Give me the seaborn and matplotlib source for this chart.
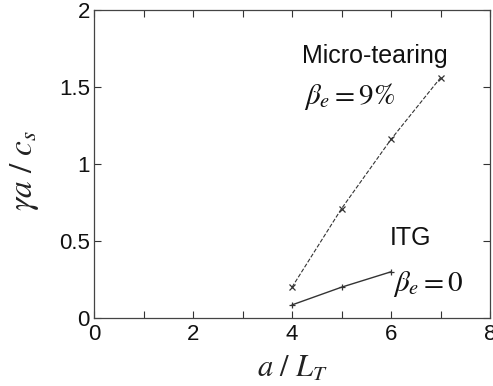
import matplotlib
matplotlib.use("Agg")
import matplotlib.pyplot as plt
import seaborn as sns
import pandas as pd

mt_x = [4, 5, 6, 7]
mt_y = [0.20, 0.71, 1.16, 1.56]
itg_x = [4, 5, 6]
itg_y = [0.085, 0.20, 0.30]

sns.set_theme(style="ticks")
plt.rcParams['font.family'] = ['Liberation Sans', 'DejaVu Sans']
plt.rcParams['mathtext.fontset'] = 'stix'

fig = plt.figure(figsize=(4.93, 3.86), dpi=100)
ax = fig.add_axes([94/493, 1-318/386, (490-94)/493, (318-10)/386])

df_mt = pd.DataFrame({'x': mt_x, 'y': mt_y})
df_itg = pd.DataFrame({'x': itg_x, 'y': itg_y})
sns.lineplot(data=df_mt, x='x', y='y', ax=ax, color='#333333', linestyle='--',
             linewidth=0.8, marker='x', markersize=4, markeredgewidth=0.9,
             markeredgecolor='#333333', dashes=(3, 2))
sns.lineplot(data=df_itg, x='x', y='y', ax=ax, color='#333333', linestyle='-',
             linewidth=1.0, marker='+', markersize=5, markeredgewidth=0.9,
             markeredgecolor='#333333')

ax.set_xlim(0, 8)
ax.set_ylim(0, 2)
ax.set_xticks([0, 2, 4, 6, 8])
ax.set_xticks([1, 3, 5, 7], minor=True)
ax.set_yticks([0, 0.5, 1, 1.5, 2])
ax.set_yticklabels(['0', '0.5', '1', '1.5', '2'])
ax.tick_params(which='both', direction='in', top=True, right=True, length=5,
               width=0.8, color='#333333', labelsize=16, labelcolor='#111111')
ax.tick_params(axis='x', pad=4)
ax.tick_params(axis='y', pad=3)
for s in ax.spines.values():
    s.set_color('#444444')
    s.set_linewidth(0.9)

ax.set_xlabel(r'$a\ /\ L_T$', fontsize=22, color='#222222', labelpad=7)
ax.set_ylabel(r'$\gamma a\ /\ c_s$', fontsize=24, color='#222222')
ax.yaxis.set_label_coords(-0.135, 0.48)

ax.text(4.2, 1.70, 'Micro-tearing', fontsize=18, va='center', ha='left', color='#111111')
ax.text(4.25, 1.44, r'$\beta_e = 9\%$', fontsize=21, va='center', ha='left', color='#111111')
ax.text(5.98, 0.52, 'ITG', fontsize=18, va='center', ha='left', color='#111111')
ax.text(6.05, 0.22, r'$\beta_e = 0$', fontsize=21, va='center', ha='left', color='#111111')

fig.savefig('out.png', dpi=100)
